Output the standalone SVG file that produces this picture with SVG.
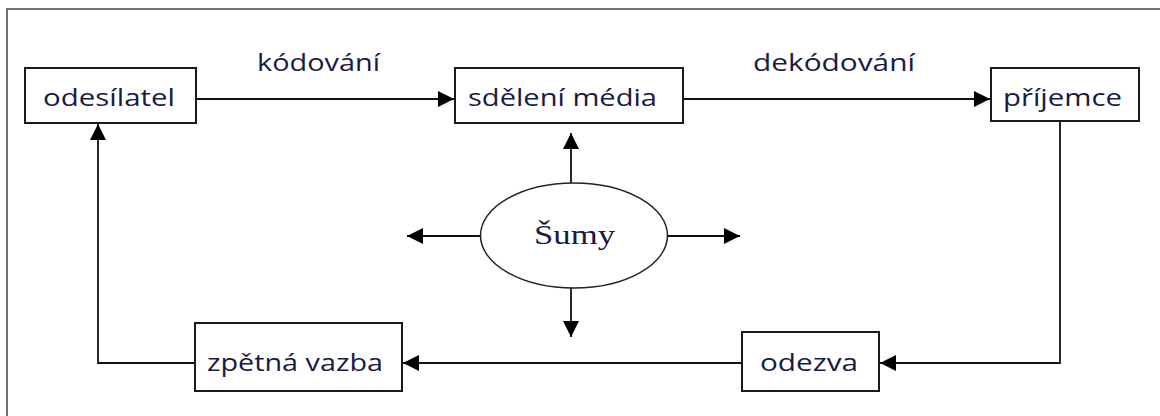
<svg xmlns="http://www.w3.org/2000/svg" width="1160" height="416" viewBox="0 0 1160 416">
<defs>
<style>
.box{fill:#fff;stroke:#1a1a1a;stroke-width:2}
.lbl{font-family:"Open Sans","Liberation Sans",sans-serif;font-size:24px;fill:#1a1a45}
.conn{fill:none;stroke:#111;stroke-width:1.8}
.serif{font-family:"Liberation Serif","Times New Roman",serif;font-size:27px;fill:#1a1a45}
</style>
<marker id="ah" markerUnits="userSpaceOnUse" markerWidth="16" markerHeight="18" viewBox="0 0 16 18" refX="16" refY="9" orient="auto">
<path d="M0,1 L16,9 L0,17 Z" fill="#000"/>
</marker>
</defs>
<rect x="7" y="9" width="1170" height="430" fill="#fff" stroke="#444" stroke-width="1.5"/>
<g id="connectors">
<path class="conn" d="M196,99 H454" marker-end="url(#ah)"/>
<path class="conn" d="M683,99 H990" marker-end="url(#ah)"/>
<path class="conn" d="M1060,121 V363 H880" marker-end="url(#ah)"/>
<path class="conn" d="M742,363 H403" marker-end="url(#ah)"/>
<path class="conn" d="M195,363 H98 V124" marker-end="url(#ah)"/>
<path class="conn" d="M571,183 V133" marker-end="url(#ah)"/>
<path class="conn" d="M480,236 H407" marker-end="url(#ah)"/>
<path class="conn" d="M667,236 H740" marker-end="url(#ah)"/>
<path class="conn" d="M571,288 V337" marker-end="url(#ah)"/>
</g>
<g id="label-kodovani"><text class="lbl" x="257" y="71" textLength="123" lengthAdjust="spacingAndGlyphs">kódování</text></g>
<g id="label-dekodovani"><text class="lbl" x="753" y="71" textLength="162" lengthAdjust="spacingAndGlyphs">dekódování</text></g>
<g id="odesilatel">
<rect class="box" x="25" y="68" width="171" height="55"/>
<text class="lbl" x="43" y="106" textLength="132" lengthAdjust="spacingAndGlyphs">odesílatel</text>
</g>
<g id="sdeleni">
<rect class="box" x="455" y="68" width="228" height="55"/>
<text class="lbl" x="468" y="106" textLength="189" lengthAdjust="spacingAndGlyphs">sdělení média</text>
</g>
<g id="prijemce">
<rect class="box" x="991" y="68" width="148" height="53"/>
<text class="lbl" x="1003" y="106" textLength="119" lengthAdjust="spacingAndGlyphs">příjemce</text>
</g>
<g id="sumy">
<ellipse cx="574" cy="235.5" rx="93.5" ry="52.5" fill="#fff" stroke="#222" stroke-width="1.5"/>
<text class="serif" x="534" y="244" textLength="81" lengthAdjust="spacingAndGlyphs">Šumy</text>
</g>
<g id="zpetna-vazba">
<rect class="box" x="195" y="323" width="207" height="68"/>
<text class="lbl" x="207" y="371" textLength="176" lengthAdjust="spacingAndGlyphs">zpětná vazba</text>
</g>
<g id="odezva">
<rect class="box" x="742" y="332" width="137" height="59"/>
<text class="lbl" x="760" y="371" textLength="98" lengthAdjust="spacingAndGlyphs">odezva</text>
</g>
</svg>
